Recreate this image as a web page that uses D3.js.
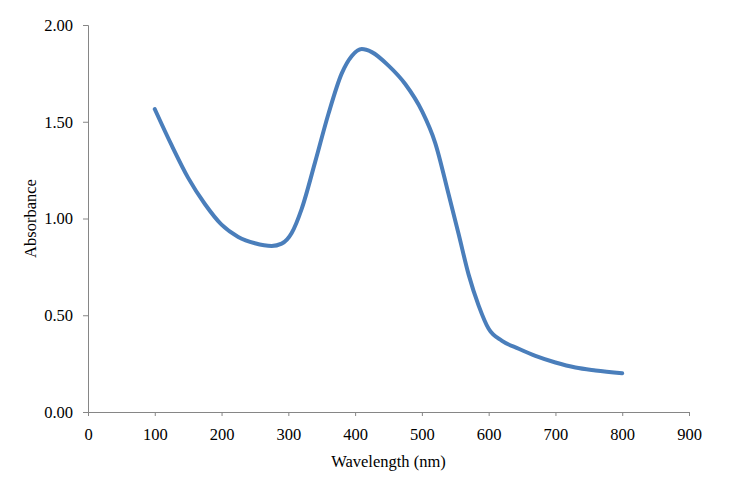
<!DOCTYPE html>
<html>
<head>
<meta charset="utf-8">
<script src="https://cdn.jsdelivr.net/npm/d3@7"></script>
<style>
  body { margin: 0; background: #fff; }
  svg text { font-family: "Liberation Serif", "Times New Roman", Times, "DejaVu Serif", serif !important; fill: #000; }
</style>
</head>
<body>
<div id="chart"></div>
<script>
// wavelength (nm) and absorbance
const wavelength = [100, 125, 150, 175, 200, 225, 250, 275, 290, 305, 320, 340, 360, 380, 395, 410, 425, 450, 475, 500, 520, 540, 555, 570, 585, 600, 620, 645, 670, 700, 730, 760, 800];
const absorbance = [1.565, 1.38, 1.21, 1.075, 0.968, 0.905, 0.872, 0.858, 0.87, 0.925, 1.05, 1.29, 1.54, 1.75, 1.84, 1.876, 1.86, 1.79, 1.695, 1.556, 1.39, 1.125, 0.92, 0.71, 0.55, 0.43, 0.368, 0.327, 0.29, 0.256, 0.23, 0.215, 0.2];
const xTicks = [0, 100, 200, 300, 400, 500, 600, 700, 800, 900];
const yTicks = [0, 0.5, 1, 1.5, 2];

const width = 731;
const height = 487;
const margin = { top: 25, right: 42, bottom: 75, left: 88 };

const data = wavelength.map((w, i) => ({ w, a: absorbance[i] }));

const x = d3.scaleLinear().domain([0, 900]).range([margin.left, width - margin.right]);
const y = d3.scaleLinear().domain([0, 2]).range([height - margin.bottom, margin.top]);

const svg = d3.select('#chart')
  .append('svg')
  .attr('width', width)
  .attr('height', height);

// y axis
const yAxis = svg.append('g')
  .attr('transform', `translate(${margin.left},0)`)
  .call(d3.axisLeft(y).tickValues(yTicks).tickFormat(d3.format('.2f')).tickSizeOuter(0).tickSize(5).tickPadding(10));

// x axis
const xAxis = svg.append('g')
  .attr('transform', `translate(0,${height - margin.bottom})`)
  .call(d3.axisBottom(x).tickValues(xTicks).tickSizeOuter(0).tickSize(4).tickPadding(12));

[yAxis, xAxis].forEach(g => {
  g.attr('font-family', null);
  g.select('.domain').attr('stroke', '#868686');
  g.selectAll('.tick line').attr('stroke', '#868686');
  g.selectAll('.tick text').attr('font-size', 16.5);
});

// the curve
const line = d3.line()
  .x(d => x(d.w))
  .y(d => y(d.a))
  .curve(d3.curveMonotoneX);

svg.append('path')
  .datum(data)
  .attr('fill', 'none')
  .attr('stroke', '#4a7ebb')
  .attr('stroke-width', 4)
  .attr('stroke-linecap', 'round')
  .attr('d', line);

// axis titles
svg.append('text')
  .attr('x', (x(0) + x(900)) / 2)
  .attr('y', 467)
  .attr('text-anchor', 'middle')
  .attr('font-size', 16.5)
  .text('Wavelength (nm)');

svg.append('text')
  .attr('transform', `translate(36,${y(1)}) rotate(-90)`)
  .attr('text-anchor', 'middle')
  .attr('font-size', 16.5)
  .text('Absorbance');
</script>
</body>
</html>
